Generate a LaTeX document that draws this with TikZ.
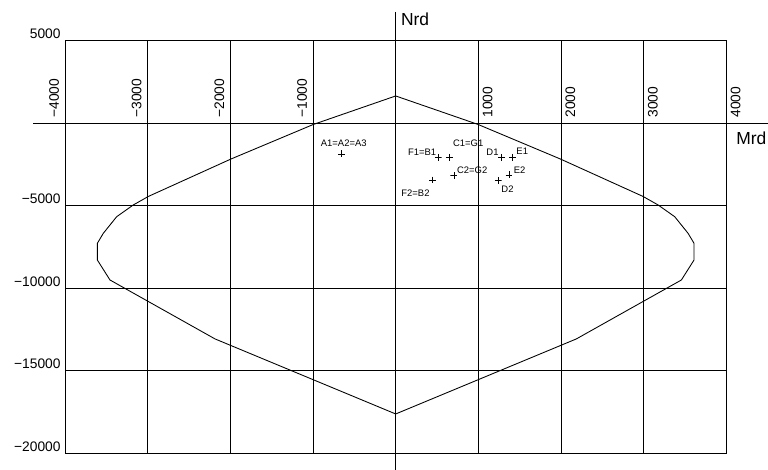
\documentclass[tikz,border=0pt]{standalone}
\usepackage{fontspec}
\setmainfont{Liberation Sans}
\usepackage{tikz}
\usetikzlibrary{positioning}

\begin{document}
\begin{tikzpicture}[x=2cm,y=2cm,line width=0.6pt,node distance=1pt]
    \tikzset{num/.style={inner sep=0pt,font=\fontsize{9.5}{10}\selectfont},
      axlbl/.style={inner sep=0pt,font=\fontsize{12}{13}\selectfont},
      lbl/.style={inner sep=0pt,font=\fontsize{6.5}{7}\selectfont},
      mk/.style={inner sep=0pt,minimum size=4.8pt,
        path picture={\draw[line width=0.5pt] (path picture bounding box.north) -- (path picture bounding box.south)
          (path picture bounding box.west) -- (path picture bounding box.east);}}}
    \useasboundingbox (-4.788,-4.198) rectangle (4.505,1.488);
    \foreach \x in {-4,...,4}
      \draw (\x,1) -- (\x,-4);
    \foreach \y in {1,-1,-2,-3,-4}
      \draw (-4,\y) -- (4,\y);
    \draw (-4.388,0) -- (4.505,0);
    \draw (0,1.343) -- (0,-4.198);
    \node[axlbl,anchor=west] (nrd) at (0.06,1.256) {Nrd};
    \node[axlbl,anchor=west] (mrd) at (4.117,-0.19) {Mrd};
    \foreach \i in {1,...,4} {
      \node[num,rotate=90,anchor=south west] (xn\i) at (-\i-0.069,0.06) {−\i000};
      \node[num,rotate=90,anchor=north west] (xp\i) at (\i+0.048,0.06) {\i000};
    }
    \foreach \y/\t/\n in {1/5000/a,-1/−5000/b,-2/−10000/c,-3/−15000/d,-4/−20000/e}
      \node[num,anchor=south east] (y\n) at (-4.05,\y+0.018) {\t};
    \draw (0,0.327) -- (-0.997,-0.018) -- (-1.993,-0.436) -- (-2.993,-0.889)
      -- (-3.175,-0.992) -- (-3.376,-1.134) -- (-3.538,-1.335) -- (-3.610,-1.456)
      -- (-3.610,-1.658) -- (-3.457,-1.900) -- (-2.186,-2.613) -- (0,-3.521)
      -- (2.186,-2.613) -- (3.457,-1.900) -- (3.610,-1.658) -- (3.610,-1.456)
      -- (3.538,-1.335) -- (3.376,-1.134) -- (3.175,-0.992) -- (2.993,-0.889)
      -- (1.993,-0.436) -- (0.997,-0.018) -- cycle;
    \node[mk] (a) at (-0.653,-0.375) {};
    \node[mk] (fb1) at (0.515,-0.415) {};
    \node[mk] (cg1) at (0.649,-0.415) {};
    \node[mk] (d1) at (1.283,-0.415) {};
    \node[mk] (e1) at (1.416,-0.415) {};
    \node[mk] (cg2) at (0.705,-0.638) {};
    \node[mk] (e2) at (1.371,-0.629) {};
    \node[mk] (d2) at (1.241,-0.698) {};
    \node[mk] (fb2) at (0.448,-0.690) {};
    \node[lbl,above=4.5pt of a.center,xshift=1.4pt] (ta) {A1=A2=A3};
    \node[lbl,above left=1pt and 1.1pt of fb1.center] (tfb1) {F1=B1};
    \node[lbl,above right=7.2pt and 2.3pt of cg1.center] (tcg1) {C1=G1};
    \node[lbl,above left=0.8pt and 1.9pt of d1.center] (td1) {D1};
    \node[lbl,above right=1.4pt and 2.3pt of e1.center] (te1) {E1};
    \node[lbl,above right=1pt and 1.9pt of cg2.center] (tcg2) {C2=G2};
    \node[lbl,above right=1pt and 3pt of e2.center] (te2) {E2};
    \node[lbl,below right=3.3pt and 1.9pt of d2.center] (td2) {D2};
    \node[lbl,below left=6.3pt and 1.9pt of fb2.center] (tfb2) {F2=B2};
\end{tikzpicture}
\end{document}
